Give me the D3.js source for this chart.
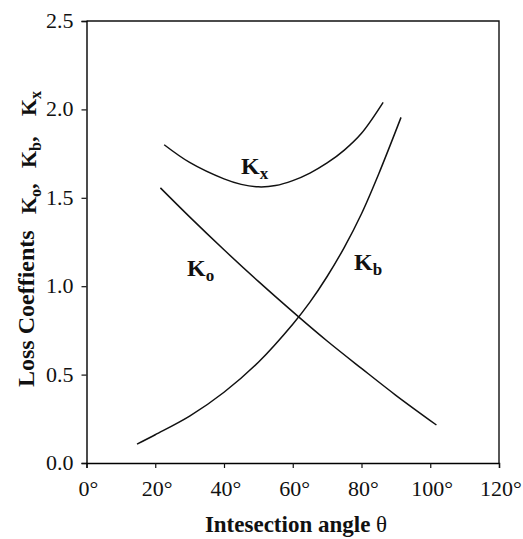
<!DOCTYPE html>
<html>
<head>
<meta charset="utf-8">
<script src="https://cdn.jsdelivr.net/npm/d3@7"></script>
<style>
  body { margin: 0; background: #fff; }
  text { font-family: "Liberation Serif", "DejaVu Serif", serif; fill: #111; }
</style>
</head>
<body>
<script>
// curve readings: [angle in degrees, loss coefficient]
var kxData = [[22.6, 1.80], [30, 1.70], [40, 1.607], [45, 1.576], [50, 1.562], [55, 1.569], [60, 1.597], [65, 1.640], [70, 1.697], [75, 1.770], [80, 1.865], [86.3, 2.04]];
var koData = [[21.5, 1.556], [30, 1.392], [40, 1.206], [50, 1.027], [61.8, 0.825], [70, 0.69], [80, 0.535], [90, 0.383], [101.8, 0.215]];
var kbData = [[14.7, 0.107], [20, 0.16], [30, 0.265], [40, 0.40], [50, 0.57], [60, 0.785], [65, 0.91], [70, 1.055], [75, 1.22], [80, 1.41], [85, 1.635], [91.5, 1.955]];

var xTicks = [0, 20, 40, 60, 80, 100, 120];
var yTicks = [0.0, 0.5, 1.0, 1.5, 2.0, 2.5];

var w = 523, h = 539;
var mLeft = 86.5, mRight = 499, mTop = 21, mBottom = 463;

var svg = d3.select("body").append("svg")
    .attr("width", w)
    .attr("height", h);

var x = d3.scaleLinear().domain([0, 120]).range([mLeft, mRight]);
var y = d3.scaleLinear().domain([0, 2.5]).range([mBottom, mTop]);

//frame: top and right edges
svg.append("path")
    .attr("d", "M" + mLeft + "," + mTop + "H" + mRight + "V" + mBottom)
    .attr("fill", "none")
    .attr("stroke", "#111")
    .attr("stroke-width", 1.4);

//x axis, major + minor ticks
var xAxis = svg.append("g").attr("transform", "translate(0," + mBottom + ")");
xAxis.call(d3.axisBottom(x).tickValues(d3.range(10, 120, 20)).tickSize(3).tickFormat(""));
xAxis.call(d3.axisBottom(x).tickValues(xTicks).tickSize(5).tickFormat(""));
xAxis.selectAll("path.domain").attr("stroke-width", 1.4);
xAxis.selectAll(".tick line").attr("stroke", "#111").attr("stroke-width", 1.2);

xAxis.selectAll(".xlab").data(xTicks).enter().append("text")
    .attr("class", "xlab")
    .attr("x", function(d){ return x(d) + 2; })
    .attr("y", 33)
    .attr("text-anchor", "middle")
    .style("font-size", "22px")
    .text(function(d){ return d + "°"; });

//y axis
var yAxis = svg.append("g").attr("transform", "translate(" + mLeft + ",0)");
yAxis.call(d3.axisLeft(y).tickValues(d3.range(0.25, 2.5, 0.5)).tickSize(3).tickFormat(""));
yAxis.call(d3.axisLeft(y).tickValues(yTicks).tickSize(5).tickFormat(""));
yAxis.selectAll("path.domain").attr("stroke-width", 1.4);
yAxis.selectAll(".tick line").attr("stroke", "#111").attr("stroke-width", 1.2);

yAxis.selectAll(".ylab").data(yTicks).enter().append("text")
    .attr("class", "ylab")
    .attr("x", -13)
    .attr("y", function(d){ return y(d) + 7; })
    .attr("text-anchor", "end")
    .style("font-size", "22px")
    .text(function(d){ return d.toFixed(1); });

//curves
var line = d3.line()
    .x(function(d){ return x(d[0]); })
    .y(function(d){ return y(d[1]); })
    .curve(d3.curveCatmullRom.alpha(0.5));

[kxData, koData, kbData].forEach(function(data){
    svg.append("path")
        .datum(data)
        .attr("d", line)
        .attr("fill", "none")
        .attr("stroke", "#111")
        .attr("stroke-width", 1.5);
});

//curve labels
function kLabel(px, py, sub){
    var t = svg.append("text")
        .attr("x", px)
        .attr("y", py)
        .style("font-size", "24px")
        .style("font-weight", "bold");
    t.append("tspan").text("K");
    t.append("tspan").attr("dy", 5).style("font-size", "17px").text(sub);
}
kLabel(241, 174, "x");
kLabel(187, 276, "o");
kLabel(354, 270, "b");

//axis titles
var xt = svg.append("text")
    .attr("x", 296)
    .attr("y", 532)
    .attr("text-anchor", "middle")
    .style("font-size", "23px")
    .style("font-weight", "bold");
xt.append("tspan").text("Intesection angle  ");
xt.append("tspan").style("font-weight", "normal").text("θ");

//rotated y title, pieces placed along the axis
var yt = svg.append("g").attr("transform", "translate(34,0) rotate(-90)");
yt.append("text")
    .attr("x", -387)
    .attr("y", 0)
    .style("font-size", "24px")
    .style("font-weight", "bold")
    .text("Loss Coeffients");

function yK(pos, sub){
    var t = yt.append("text")
        .attr("x", -pos)
        .attr("y", 2)
        .style("font-size", "22px")
        .style("font-weight", "bold");
    t.append("tspan").text("K");
    t.append("tspan").attr("dy", 5).style("font-size", "16px").text(sub);
    if (sub !== "x") t.append("tspan").attr("dy", -5).text(",");
}
yK(214, "o");
yK(168, "b");
yK(116, "x");
</script>
</body>
</html>
